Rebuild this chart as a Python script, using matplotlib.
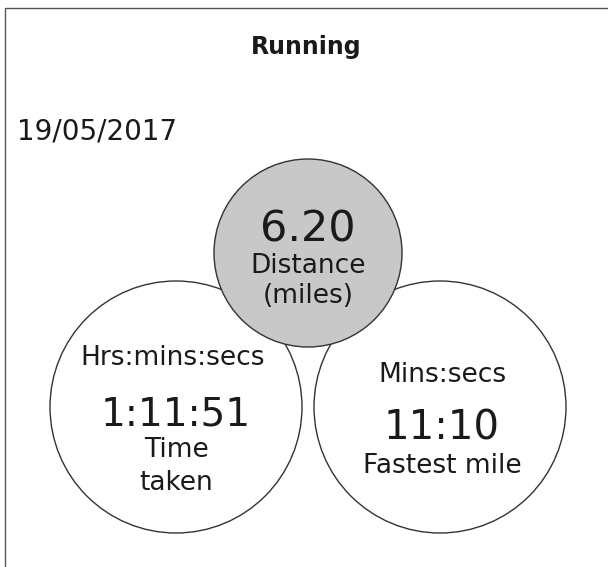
import matplotlib
matplotlib.use("Agg")
import matplotlib.pyplot as plt
from matplotlib.patches import Circle, Rectangle

# ---- data ----
title = "Running"
date_label = "19/05/2017"
metric_values = ["6.20", "1:11:51", "11:10"]
metric_headers = ["", "Hrs:mins:secs", "Mins:secs"]
metric_names = ["Distance\n(miles)", "Time\ntaken", "Fastest mile"]
circle_fill = ["#c8c8c8", "white", "white"]

W, H = 608, 567
plt.rcParams['font.family'] = ['DejaVu Sans']
fig = plt.figure(figsize=(W / 100, H / 100), dpi=100)
ax = fig.add_axes([0, 0, 1, 1])
ax.set_xlim(0, W)
ax.set_ylim(H, 0)
ax.set_aspect('equal')
ax.axis('off')

# frame (extends past right/bottom edges)
ax.add_patch(Rectangle((5, 8), 700, 700, fill=False, edgecolor='#555555', lw=1.0))

ax.text(306, 54, title, ha='center', va='baseline', fontsize=17, fontweight='bold', color='#1a1a1a')
ax.text(17, 140, date_label, ha='left', va='baseline', fontsize=20, color='#1a1a1a')

# circle layout: (cx, cy, r)
layout = [(308, 253, 94), (176, 407, 126), (440, 407, 126)]
zorders = [3, 2, 2]
for (cx, cy, r), fc, z in zip(layout, circle_fill, zorders):
    ax.add_patch(Circle((cx, cy), r, facecolor=fc, edgecolor='#333333', lw=1.0, zorder=z))

tc = '#1a1a1a'
# gray circle (distance)
cx = layout[0][0]
ax.text(cx, 242, metric_values[0], ha='center', va='baseline', fontsize=31, color=tc, zorder=5)
ax.text(cx, 273, metric_names[0].split('\n')[0], ha='center', va='baseline', fontsize=19, color=tc, zorder=5)
ax.text(cx, 303, metric_names[0].split('\n')[1], ha='center', va='baseline', fontsize=19, color=tc, zorder=5)

# left circle (time)
cx = layout[1][0]
ax.text(cx - 3, 365, metric_headers[1], ha='center', va='baseline', fontsize=19, color=tc, zorder=5)
ax.text(cx, 425, metric_values[1], ha='center', va='baseline', fontsize=28, color=tc, zorder=5)
ax.text(cx, 457, metric_names[1].split('\n')[0], ha='center', va='baseline', fontsize=19, color=tc, zorder=5)
ax.text(cx, 490, metric_names[1].split('\n')[1], ha='center', va='baseline', fontsize=19, color=tc, zorder=5)

# right circle (fastest mile)
cx = layout[2][0] + 2
ax.text(cx, 382, metric_headers[2], ha='center', va='baseline', fontsize=19, color=tc, zorder=5)
ax.text(cx, 440, metric_values[2], ha='center', va='baseline', fontsize=29, color=tc, zorder=5)
ax.text(cx, 473, metric_names[2], ha='center', va='baseline', fontsize=19, color=tc, zorder=5)

fig.savefig("out.png", dpi=100, facecolor='white')
